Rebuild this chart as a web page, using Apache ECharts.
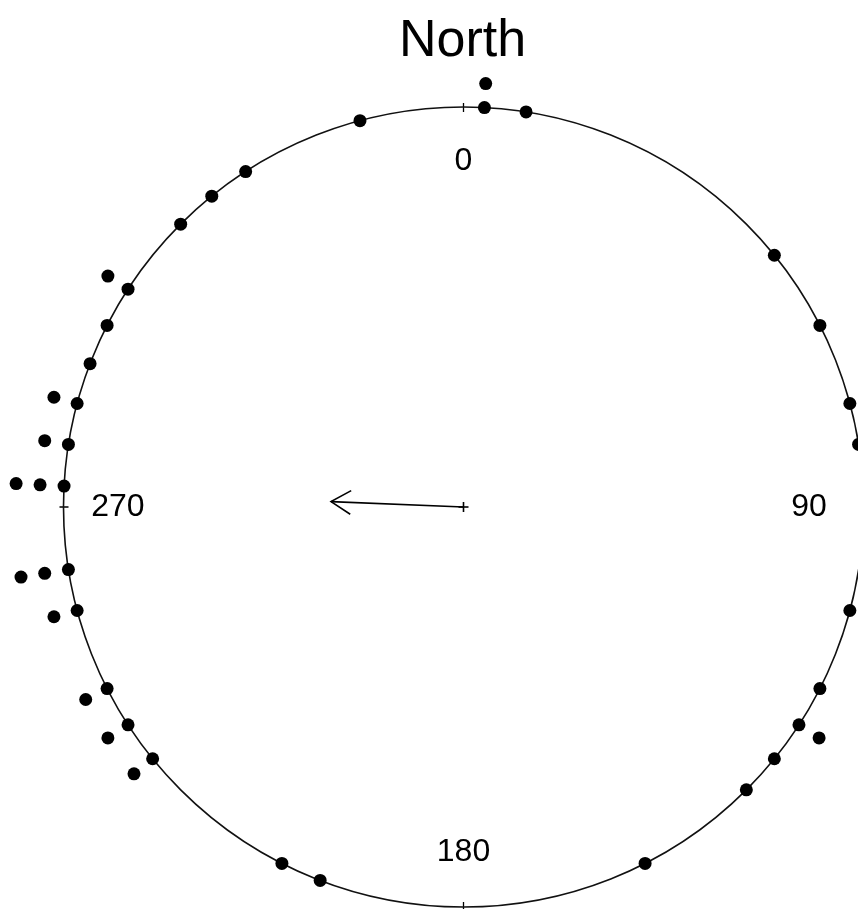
<!DOCTYPE html>
<html>
<head>
<meta charset="utf-8">
<script src="https://cdn.jsdelivr.net/npm/echarts@6/dist/echarts.min.js"></script>
<style>
html, body { margin: 0; padding: 0; background: #fff; }
#chart { width: 858px; height: 909px; }
</style>
</head>
<body>
<div id="chart"></div>
<script>
// Observed directions (degrees, clockwise from North), one entry per point
const angles = [3, 3, 9, 51, 63, 75, 81, 105, 117, 123, 123, 129, 135, 153,
  201, 207, 231, 231, 237, 237, 243, 243, 255, 255, 261, 261, 261,
  273, 273, 273, 279, 279, 285, 285, 291, 297, 303, 303, 315, 321, 327, 345];
const tickAngles = [0, 90, 180, 270];
const tickLabels = ['0', '90', '180', '270'];
const titleText = 'North';

// stacked points: repeated directions pile outward
const STACK = 0.06;
const seen = {};
const pointData = angles.map(function (a) {
  const k = seen[a] || 0;
  seen[a] = k + 1;
  return [1 + k * STACK, a];
});

// mean resultant vector
let S = 0, C = 0;
angles.forEach(function (a) {
  const t = a * Math.PI / 180;
  S += Math.sin(t); C += Math.cos(t);
});
const rho = Math.sqrt(S * S + C * C) / angles.length;
let meanDir = Math.atan2(S, C) * 180 / Math.PI;
if (meanDir < 0) meanDir += 360;

const labelData = tickAngles.map(function (a, i) {
  return { name: tickLabels[i], value: [0.864, a] };
});

const FONT = "'Liberation Sans', Arial, Helvetica, sans-serif";
const INK = '#000';
const CENTER = [463.5, 507];
const RADIUS = 400;

const chart = echarts.init(document.getElementById('chart'), null, { renderer: 'canvas' });
chart.setOption({
  animation: false,
  backgroundColor: '#fff',
  title: {
    text: titleText,
    left: 394,
    top: 11,
    textStyle: { fontFamily: FONT, fontSize: 52, fontWeight: 'normal', color: '#000' }
  },
  polar: [
    { center: CENTER, radius: RADIUS },
    { center: CENTER, radius: RADIUS }
  ],
  radiusAxis: [
    { polarIndex: 0, min: 0, max: 1, show: false },
    { polarIndex: 1, min: 0, max: 1, show: false }
  ],
  angleAxis: [
    {
      polarIndex: 0, type: 'value', min: 0, max: 360, interval: 90,
      startAngle: 90, clockwise: true,
      axisLine: { show: true, lineStyle: { color: '#111', width: 1.6 } },
      axisTick: { show: true, length: 4, lineStyle: { color: INK, width: 1.3 } },
      axisLabel: { show: false },
      splitLine: { show: false }
    },
    {
      polarIndex: 1, type: 'value', min: 0, max: 360, interval: 90,
      startAngle: 90, clockwise: true,
      axisLine: { show: false },
      axisTick: { show: true, inside: true, length: 5, lineStyle: { color: INK, width: 1.3 } },
      axisLabel: { show: false },
      splitLine: { show: false }
    }
  ],
  series: [
    {
      type: 'scatter',
      coordinateSystem: 'polar',
      polarIndex: 0,
      clip: false,
      symbol: 'circle',
      symbolSize: 13,
      itemStyle: { color: '#000', opacity: 1 },
      data: pointData,
      silent: true
    },
    {
      type: 'scatter',
      coordinateSystem: 'polar',
      polarIndex: 0,
      clip: false,
      symbolSize: 1,
      itemStyle: { color: 'rgba(0,0,0,0)', opacity: 1 },
      label: {
        show: true,
        position: 'inside',
        formatter: function (p) { return p.name; },
        fontFamily: FONT,
        fontSize: 32,
        color: '#000',
        opacity: 1
      },
      data: labelData,
      silent: true
    },
    {
      type: 'custom',
      coordinateSystem: 'polar',
      polarIndex: 0,
      clip: false,
      silent: true,
      data: [[rho, meanDir]],
      renderItem: function (params, api) {
        const tip = api.coord([api.value(0), api.value(1)]);
        const c = api.coord([0, api.value(1)]);
        const dx = c[0] - tip[0], dy = c[1] - tip[1];
        const len = Math.sqrt(dx * dx + dy * dy) || 1;
        const ux = dx / len, uy = dy / len;
        const L = 23, ang = 31 * Math.PI / 180;
        const ca = Math.cos(ang), sa = Math.sin(ang);
        const w1 = [tip[0] + L * (ux * ca - uy * sa), tip[1] + L * (uy * ca + ux * sa)];
        const w2 = [tip[0] + L * (ux * ca + uy * sa), tip[1] + L * (uy * ca - ux * sa)];
        const st = { stroke: INK, lineWidth: 1.6, fill: null };
        const arm = 5;
        return {
          type: 'group',
          children: [
            { type: 'line', shape: { x1: c[0], y1: c[1], x2: tip[0], y2: tip[1] }, style: st },
            { type: 'polyline', shape: { points: [w1, tip, w2] }, style: st },
            { type: 'line', shape: { x1: c[0] - arm, y1: c[1], x2: c[0] + arm, y2: c[1] }, style: st },
            { type: 'line', shape: { x1: c[0], y1: c[1] - arm, x2: c[0], y2: c[1] + arm }, style: st }
          ]
        };
      }
    }
  ]
});
</script>
</body>
</html>
